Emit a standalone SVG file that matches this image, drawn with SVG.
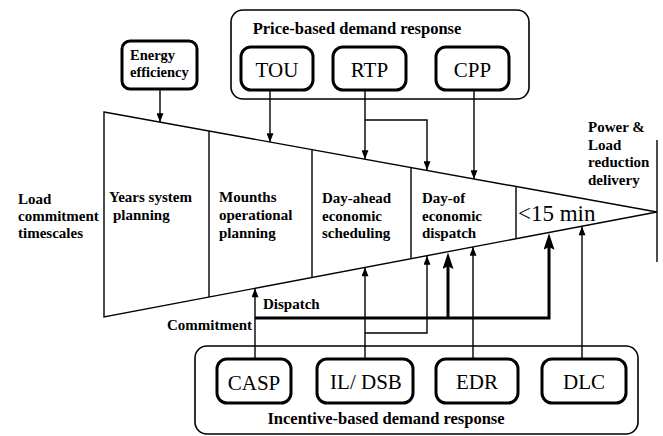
<svg xmlns="http://www.w3.org/2000/svg" width="663" height="436" viewBox="0 0 663 436">
<style>
.bg{fill:#fff}
.ln{fill:none;stroke:#000;stroke-width:1.4}
.thk{fill:none;stroke:#000;stroke-width:3}
.grp{fill:#fff;stroke:#000;stroke-width:1.6}
.box{fill:#fff;stroke:#000;stroke-width:3}
text{font-family:"Liberation Serif","DejaVu Serif",serif;fill:#000}
.b{font-weight:bold;font-size:15px}
.ttl{font-weight:bold;font-size:16.5px}
.big{font-size:21px}
.min{font-size:23px}
</style>
<defs>
<marker id="ah" viewBox="0 0 10 8" refX="10" refY="4" markerWidth="10" markerHeight="7" markerUnits="userSpaceOnUse" orient="auto"><path d="M0,0 L10,4 L0,8 z" fill="#000"/></marker>
<marker id="ahT" viewBox="0 0 18 12" refX="8" refY="6" markerWidth="18" markerHeight="11" markerUnits="userSpaceOnUse" orient="auto"><path d="M0,0 L18,6 L0,12 L3,6 z" fill="#000"/></marker>
</defs>
<rect class="bg" x="0" y="0" width="663" height="436"/>

<g id="funnel">
<polygon class="ln" points="104,112 657,212 104,317"/>
<line class="ln" x1="209" y1="131" x2="209" y2="297"/>
<line class="ln" x1="312" y1="149.6" x2="312" y2="277.5"/>
<line class="ln" x1="411" y1="167.5" x2="411" y2="258.7"/>
<line class="ln" x1="516" y1="186.5" x2="516" y2="238.8"/>
<line class="ln" x1="657" y1="140" x2="657" y2="262"/>
</g>

<g id="label-left">
<text class="b" x="18" y="204">Load</text>
<text class="b" x="18" y="221">commitment</text>
<text class="b" x="18" y="238">timescales</text>
</g>
<g id="stage-years">
<text class="b" x="109" y="202">Years system</text>
<text class="b" x="113" y="220">planning</text>
</g>
<g id="stage-months">
<text class="b" x="219" y="202">Mounths</text>
<text class="b" x="219" y="220">operational</text>
<text class="b" x="219" y="238">planning</text>
</g>
<g id="stage-dayahead">
<text class="b" x="322" y="203">Day-ahead</text>
<text class="b" x="322" y="221">economic</text>
<text class="b" x="322" y="238">scheduling</text>
</g>
<g id="stage-dayof">
<text class="b" x="422" y="203">Day-of</text>
<text class="b" x="422" y="221">economic</text>
<text class="b" x="422" y="238">dispatch</text>
</g>
<g id="stage-15min">
<text class="min" x="518" y="221">&lt;15 min</text>
</g>
<g id="label-delivery">
<text class="b" x="588" y="132">Power &amp;</text>
<text class="b" x="588" y="150">Load</text>
<text class="b" x="588" y="167">reduction</text>
<text class="b" x="588" y="185">delivery</text>
</g>

<g id="energy-efficiency">
<rect class="box" x="122" y="41" width="75" height="48" rx="8"/>
<text class="b" x="130" y="60" style="font-size:14.5px">Energy</text>
<text class="b" x="130" y="77" style="font-size:14.5px">efficiency</text>
</g>

<g id="price-based">
<rect class="grp" x="231" y="10" width="298" height="89" rx="12"/>
<text class="ttl" x="357" y="34" text-anchor="middle">Price-based demand response</text>
</g>
<g id="TOU">
<rect class="box" x="241" y="47" width="72" height="43" rx="10"/>
<text class="big" x="277" y="77" text-anchor="middle">TOU</text>
</g>
<g id="RTP">
<rect class="box" x="333" y="47" width="73" height="43" rx="10"/>
<text class="big" x="369.5" y="77" text-anchor="middle">RTP</text>
</g>
<g id="CPP">
<rect class="box" x="436" y="47" width="73" height="43" rx="10"/>
<text class="big" x="472.5" y="77" text-anchor="middle">CPP</text>
</g>

<g id="incentive-based">
<rect class="grp" x="195" y="346" width="443" height="88" rx="12"/>
<text class="ttl" x="386" y="424" text-anchor="middle">Incentive-based demand response</text>
</g>
<g id="CASP">
<rect class="box" x="217" y="359" width="74" height="44" rx="10"/>
<text class="big" x="254" y="390" text-anchor="middle">CASP</text>
</g>
<g id="ILDSB">
<rect class="box" x="317" y="359" width="96" height="44" rx="10"/>
<text class="big" x="366" y="389" text-anchor="middle">IL/ DSB</text>
</g>
<g id="EDR">
<rect class="box" x="436" y="359" width="82" height="44" rx="10"/>
<text class="big" x="477" y="389" text-anchor="middle">EDR</text>
</g>
<g id="DLC">
<rect class="box" x="542" y="359" width="84" height="44" rx="10"/>
<text class="big" x="584" y="389" text-anchor="middle">DLC</text>
</g>

<g id="connectors">
<path class="ln" d="M160,89 V122" marker-end="url(#ah)"/>
<path class="ln" d="M270,90 V142" marker-end="url(#ah)"/>
<path class="ln" d="M365,90 V159" marker-end="url(#ah)"/>
<path class="ln" d="M365,120 H427 V170" marker-end="url(#ah)"/>
<path class="ln" d="M474,90 V179" marker-end="url(#ah)"/>
<path class="ln" d="M255,359 V288.5" marker-end="url(#ah)"/>
<path class="thk" d="M255,318 H549 V242.5" marker-end="url(#ahT)"/>
<path class="thk" d="M448,318 V261.7" marker-end="url(#ahT)"/>
<path class="ln" d="M365,359 V267.5" marker-end="url(#ah)"/>
<path class="ln" d="M365,333 H427 V256" marker-end="url(#ah)"/>
<path class="ln" d="M473,359 V247" marker-end="url(#ah)"/>
<path class="ln" d="M582,359 V226.5" marker-end="url(#ah)"/>
<text class="b" x="263" y="309">Dispatch</text>
<text class="b" x="167" y="330">Commitment</text>
</g>
</svg>
